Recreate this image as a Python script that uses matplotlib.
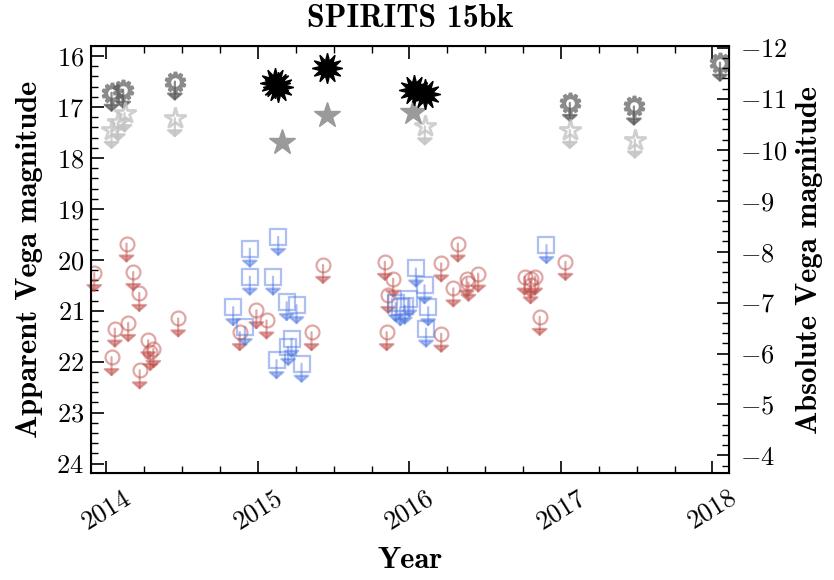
import matplotlib
matplotlib.use("Agg")
import matplotlib.pyplot as plt
from matplotlib.ticker import MultipleLocator, FixedLocator

plt.rcParams["font.family"] = ["cmr10", "DejaVu Serif"]
plt.rcParams["mathtext.fontset"] = "cm"
plt.rcParams["axes.formatter.use_mathtext"] = True
plt.rcParams["axes.unicode_minus"] = True

title = "SPIRITS 15bk"
distance_modulus = 27.84
year_ticks = [2014, 2015, 2016, 2017, 2018]
year_labels = ["2014", "2015", "2016", "2017", "2018"]

# Spitzer [4.5] detections
ch2_det_t = [2015.11, 2015.135, 2015.453, 2016.03, 2016.10]
ch2_det_m = [16.53, 16.60, 16.23, 16.66, 16.75]
# Spitzer [3.6] detections
ch1_det_t = [2015.156, 2015.453, 2016.025]
ch1_det_m = [17.68, 17.15, 17.09]
# Spitzer [4.5] upper limits
ch2_lim_t = [2014.034, 2014.111, 2014.452, 2017.059, 2017.482, 2018.05]
ch2_lim_m = [16.72, 16.66, 16.50, 16.92, 16.99, 16.13]
# Spitzer [3.6] upper limits
ch1_lim_t = [2014.034, 2014.076, 2014.12, 2014.452, 2016.102, 2017.059, 2017.488]
ch1_lim_m = [17.45, 17.30, 17.12, 17.22, 17.38, 17.45, 17.64]
# ground-based red-band upper limits
red_lim_t = [2014.133, 2014.177, 2014.217, 2014.056, 2014.144, 2014.034, 2014.276,
             2014.29, 2014.31, 2014.22, 2014.474, 2013.92, 2014.99, 2015.057,
             2014.88, 2015.43, 2015.354, 2015.838, 2015.893, 2015.86, 2015.85,
             2016.21, 2016.32, 2016.29, 2016.378, 2016.39, 2016.454, 2016.21,
             2016.76, 2016.80, 2016.83, 2016.80, 2016.86, 2017.03]
red_lim_m = [19.68, 20.24, 20.65, 21.35, 21.24, 21.91, 21.58,
             21.81, 21.75, 22.17, 21.15, 20.26, 20.99, 21.19,
             21.42, 20.10, 21.42, 20.04, 20.37, 20.69, 21.42,
             20.07, 19.68, 20.56, 20.37, 20.45, 20.27, 21.45,
             20.33, 20.38, 20.33, 20.50, 21.12, 20.04]
# ground-based blue-band upper limits
blue_lim_t = [2015.134, 2014.947, 2014.947, 2015.10, 2014.837, 2015.19, 2015.255,
              2014.914, 2015.222, 2015.20, 2015.123, 2015.288,
              2016.043, 2016.10, 2016.0, 2015.94, 2015.91, 2015.97, 2016.124,
              2016.11, 2016.905]
blue_lim_m = [19.55, 19.78, 20.33, 20.33, 20.93, 20.83, 20.89,
              21.32, 21.55, 21.71, 21.97, 22.04,
              20.17, 20.50, 20.76, 20.93, 20.85, 20.90, 20.93,
              21.35, 19.71]

fig = plt.figure(figsize=(8.34, 5.80), dpi=100)
ax = fig.add_axes([0.109, 0.185, 0.765, 0.735])


def upper_limits(ts, ms, color, marker, size, lw, alpha, arrow_len=0.38):
    for t, m in zip(ts, ms):
        ax.annotate("", xy=(t, m + arrow_len), xytext=(t, m),
                    arrowprops=dict(arrowstyle="-|>,head_width=0.35,head_length=0.3",
                                    color=color, lw=1.6, alpha=alpha,
                                    shrinkA=0, shrinkB=0, mutation_scale=14),
                    annotation_clip=False, zorder=2)
    ax.plot(ts, ms, linestyle="none", marker=marker, markersize=size,
            markerfacecolor="none", markeredgecolor=color, markeredgewidth=lw,
            alpha=alpha, zorder=3)


upper_limits(red_lim_t, red_lim_m, "#c0504d", "o", 10, 1.6, 0.5)
upper_limits(blue_lim_t, blue_lim_m, "#4a74e0", "s", 12, 1.6, 0.45)
upper_limits(ch1_lim_t, ch1_lim_m, "#c4c4c4", "*", 16, 2.0, 0.8)
upper_limits(ch2_lim_t, ch2_lim_m, "#5a5a5a", (10, 1, 0), 15, 2.5, 0.7)

ax.plot(ch1_det_t, ch1_det_m, linestyle="none", marker="*", markersize=19,
        color="#9a9a9a", zorder=4)
ax.plot(ch2_det_t, ch2_det_m, linestyle="none", marker=(12, 1, 0), markersize=22,
        color="black", zorder=5)

ax.set_xlim(2013.898, 2018.109)
ax.set_ylim(24.18, 15.81)

ax.xaxis.set_major_locator(FixedLocator(year_ticks))
ax.set_xticklabels(year_labels, rotation=32, ha="center", fontsize=19)
ax.xaxis.set_minor_locator(MultipleLocator(0.25))
ax.yaxis.set_major_locator(MultipleLocator(1))
ax.yaxis.set_minor_locator(MultipleLocator(0.2))
ax.tick_params(axis="both", which="both", direction="in", top=True, right=False)
ax.tick_params(axis="both", which="major", length=9, width=1.2, labelsize=19)
ax.tick_params(axis="both", which="minor", length=5, width=1.0)
ax.tick_params(axis="x", which="major", pad=9)
ax.tick_params(axis="y", which="major", pad=5)
for s in ax.spines.values():
    s.set_linewidth(1.5)

ax2 = ax.twinx()
lo, hi = ax.get_ylim()
ax2.set_ylim(lo - distance_modulus, hi - distance_modulus)
ax2.yaxis.set_major_locator(MultipleLocator(1))
ax2.yaxis.set_minor_locator(MultipleLocator(0.2))
ax2.tick_params(axis="y", which="both", direction="in")
ax2.tick_params(axis="y", which="major", length=9, width=1.2, labelsize=19, pad=8)
ax2.tick_params(axis="y", which="minor", length=5, width=1.0)

bold = ["cmb10", "DejaVu Serif"]
ax.set_title(title, fontsize=23, family=bold, pad=14)
ax.set_xlabel("Year", fontsize=22, family=bold, labelpad=10)
ax.set_ylabel("Apparent Vega magnitude", fontsize=22, family=bold, labelpad=9)
ax2.set_ylabel("Absolute Vega magnitude", fontsize=22, family=bold, labelpad=6)

fig.savefig("out.png", dpi=100)
